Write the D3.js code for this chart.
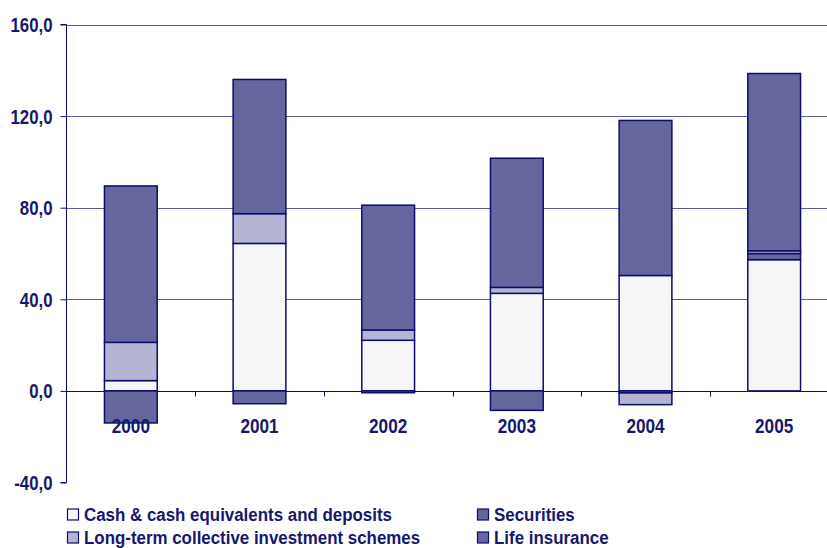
<!DOCTYPE html>
<html>
<head>
<meta charset="utf-8">
<script src="https://cdn.jsdelivr.net/npm/d3@7"></script>
<style>
  html, body { margin: 0; padding: 0; background: #ffffff; }
  svg { display: block; }
  text { font-family: "Liberation Sans", Arial, sans-serif; font-weight: bold; fill: #17176d; }
</style>
</head>
<body>
<svg id="chart" width="827" height="548"></svg>
<script>
// Years on the category axis
const years = ["2000", "2001", "2002", "2003", "2004", "2005"];

// Stacked components, in stacking order
const cash       = [4.5, 64.4, 22.1, 42.6, 50.4, 57.3];
const securities = [-14.0, -5.6, -0.8, -8.5, -0.9, 2.7];
const longTerm   = [16.7, 13.0, 4.5, 2.6, -5.1, 1.2];
const life       = [68.3, 58.6, 54.5, 56.4, 67.7, 77.4];

const seriesNames = [
  "Cash & cash equivalents and deposits",
  "Securities",
  "Long-term collective investment schemes",
  "Life insurance"
];
const seriesKeys = ["cash", "securities", "longTerm", "life"];

// Value axis ticks
const yTicks = [-40, 0, 40, 80, 120, 160];
const yTickLabels = ["-40,0", "0,0", "40,0", "80,0", "120,0", "160,0"];

const fills = {
  cash: "#f6f6f9",
  securities: "#66669f",
  longTerm: "#b5b5d3",
  life: "#66669f"
};
const navy = "#0c0c6c";

const rows = years.map((y, i) => ({
  year: y,
  cash: cash[i],
  securities: securities[i],
  longTerm: longTerm[i],
  life: life[i]
}));

const svg = d3.select("#chart");

const x = d3.scaleBand().domain(years).range([66.5, 838.5]).padding(0);
const y = d3.scaleLinear().domain([-40, 160]).range([482.5, 24.5]);
const barW = x.bandwidth() * 0.41;

// Condensed text: horizontally squeezed around its anchor point
function squeezedText(sel, px, py, size, sx, anchor, str) {
  return sel.append("text")
    .attr("transform", `translate(${px},${py}) scale(${sx},1)`)
    .attr("text-anchor", anchor)
    .style("font-size", size + "px")
    .text(str);
}

// Horizontal gridlines
svg.append("g")
  .selectAll("line")
  .data(yTicks.filter(t => t !== -40))
  .join("line")
  .attr("x1", 66.5).attr("x2", 827)
  .attr("y1", d => Math.round(y(d)) + 0.5).attr("y2", d => Math.round(y(d)) + 0.5)
  .attr("stroke", d => d === 0 ? navy : "#5a5a9c")
  .attr("stroke-width", 1);

// Stacked bars (negatives stack below zero)
const stack = d3.stack().keys(seriesKeys).offset(d3.stackOffsetDiverging);
const layers = stack(rows);

svg.append("g")
  .selectAll("g")
  .data(layers)
  .join("g")
  .attr("fill", d => fills[d.key])
  .selectAll("rect")
  .data(d => d.filter(p => p[1] !== p[0]))
  .join("rect")
  .attr("x", d => x(d.data.year) + (x.bandwidth() - barW) / 2)
  .attr("width", barW)
  .attr("y", d => y(Math.max(d[0], d[1])))
  .attr("height", d => Math.abs(y(d[0]) - y(d[1])))
  .attr("stroke", navy)
  .attr("stroke-width", 1.5);

// Value axis
const yAxis = d3.axisLeft(y)
  .tickValues(yTicks)
  .tickFormat("")
  .tickSize(6);

const gy = svg.append("g")
  .attr("transform", "translate(66.5,0)")
  .call(yAxis);
gy.select(".domain").attr("stroke", navy).attr("d", `M-6,${y(160)}H0V${y(-40)}H-6`);
gy.selectAll(".tick line").attr("stroke", navy);
gy.selectAll(".tick").each(function (d) {
  squeezedText(d3.select(this), -14, 7, 20, 0.84, "end", yTickLabels[yTicks.indexOf(d)]);
});

// Category axis: small ticks on the zero line between years, labels below
const gx = svg.append("g")
  .attr("transform", `translate(0,${Math.round(y(0)) + 0.5})`);
gx.selectAll("line")
  .data(years.slice(1))
  .join("line")
  .attr("x1", d => Math.round(x(d)) + 0.5)
  .attr("x2", d => Math.round(x(d)) + 0.5)
  .attr("y1", 0).attr("y2", 5)
  .attr("stroke", navy);
years.forEach(yr => {
  squeezedText(gx, x(yr) + x.bandwidth() / 2, 41, 20, 0.86, "middle", yr);
});

// Legend, two columns filled row by row
const legendPos = [
  { x: 67, y: 515.5 },
  { x: 477, y: 515.5 },
  { x: 67, y: 538.5 },
  { x: 477, y: 538.5 }
];
const legend = svg.append("g")
  .selectAll("g")
  .data(seriesKeys)
  .join("g")
  .attr("transform", (d, i) => `translate(${legendPos[i].x},${legendPos[i].y})`);
legend.append("rect")
  .attr("x", 0.5).attr("y", -6.5)
  .attr("width", 11).attr("height", 11)
  .attr("fill", d => fills[d])
  .attr("stroke", navy)
  .attr("stroke-width", 1.2);
legend.each(function (d, i) {
  squeezedText(d3.select(this), 17, 5, 19, 0.89, "start", seriesNames[i]);
});
</script>
</body>
</html>
